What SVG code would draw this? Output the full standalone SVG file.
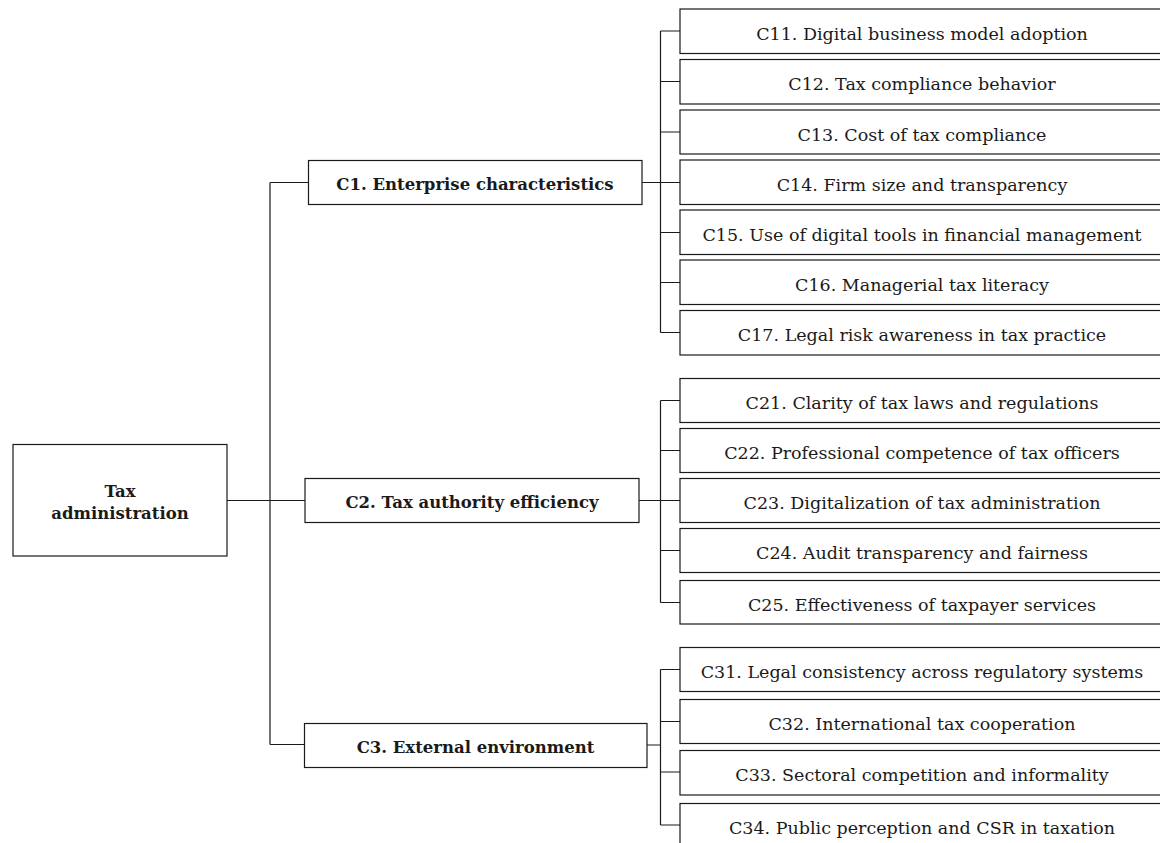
<svg xmlns="http://www.w3.org/2000/svg" width="1160" height="843" viewBox="0 0 1160 843">
<style>
.box{fill:#fff;stroke:#1a1a1a;stroke-width:1.2}
.ln{fill:none;stroke:#1a1a1a;stroke-width:1.2}
.t{font-family:"DejaVu Serif","Liberation Serif",serif;font-size:17.5px;fill:#1a1a1a;text-anchor:middle}
.b{font-weight:bold;font-size:16.5px}
</style>
<rect width="1160" height="843" fill="#fff"/>
<g id="connectors">
<path class="ln" d="M227,500.5 H305 M270,182.5 V744.5 M270,182.5 H308 M270,744.5 H304"/>
<path class="ln" d="M642,182.5 H660.5 M660.5,31 V332.5 M660.5,31 H680 M660.5,81.5 H680 M660.5,132 H680 M660.5,182.5 H680 M660.5,232.5 H680 M660.5,282.5 H680 M660.5,332.5 H680"/>
<path class="ln" d="M639,500.5 H660.5 M660.5,400.5 V602.5 M660.5,400.5 H680 M660.5,450.5 H680 M660.5,500.5 H680 M660.5,550.5 H680 M660.5,602.5 H680"/>
<path class="ln" d="M647,745 H660.5 M660.5,669.5 V825 M660.5,669.5 H680 M660.5,721.5 H680 M660.5,772 H680 M660.5,825 H680"/>
</g>
<g id="root">
<rect class="box" x="13" y="444.5" width="214" height="111.5"/>
<text class="t b" x="120" y="497">Tax</text>
<text class="t b" x="120" y="518.5">administration</text>
</g>
<g id="c1"><rect class="box" x="308.5" y="160.5" width="333.5" height="44"/><text class="t b" x="475" y="190">C1. Enterprise characteristics</text></g>
<g id="c2"><rect class="box" x="305" y="478.5" width="334" height="44"/><text class="t b" x="472" y="508">C2. Tax authority efficiency</text></g>
<g id="c3"><rect class="box" x="304.5" y="723.5" width="342.5" height="44"/><text class="t b" x="475.5" y="753">C3. External environment</text></g>
<g id="c11"><rect class="box" x="680" y="9" width="484" height="44.5"/><text class="t" x="922" y="39.5">C11. Digital business model adoption</text></g>
<g id="c12"><rect class="box" x="680" y="59.5" width="484" height="44.5"/><text class="t" x="922" y="90">C12. Tax compliance behavior</text></g>
<g id="c13"><rect class="box" x="680" y="110" width="484" height="44"/><text class="t" x="922" y="140.5">C13. Cost of tax compliance</text></g>
<g id="c14"><rect class="box" x="680" y="160" width="484" height="44.5"/><text class="t" x="922" y="190.5">C14. Firm size and transparency</text></g>
<g id="c15"><rect class="box" x="680" y="210" width="484" height="44.5"/><text class="t" x="922" y="240.5">C15. Use of digital tools in financial management</text></g>
<g id="c16"><rect class="box" x="680" y="260" width="484" height="44.5"/><text class="t" x="922" y="290.5">C16. Managerial tax literacy</text></g>
<g id="c17"><rect class="box" x="680" y="310.5" width="484" height="44.5"/><text class="t" x="922" y="341">C17. Legal risk awareness in tax practice</text></g>
<g id="c21"><rect class="box" x="680" y="378.5" width="484" height="44"/><text class="t" x="922" y="409">C21. Clarity of tax laws and regulations</text></g>
<g id="c22"><rect class="box" x="680" y="428.5" width="484" height="44"/><text class="t" x="922" y="459">C22. Professional competence of tax officers</text></g>
<g id="c23"><rect class="box" x="680" y="478.5" width="484" height="44"/><text class="t" x="922" y="509">C23. Digitalization of tax administration</text></g>
<g id="c24"><rect class="box" x="680" y="528.5" width="484" height="44"/><text class="t" x="922" y="559">C24. Audit transparency and fairness</text></g>
<g id="c25"><rect class="box" x="680" y="580.5" width="484" height="43.5"/><text class="t" x="922" y="611">C25. Effectiveness of taxpayer services</text></g>
<g id="c31"><rect class="box" x="680" y="647.5" width="484" height="44"/><text class="t" x="922" y="678">C31. Legal consistency across regulatory systems</text></g>
<g id="c32"><rect class="box" x="680" y="699.5" width="484" height="44"/><text class="t" x="922" y="730">C32. International tax cooperation</text></g>
<g id="c33"><rect class="box" x="680" y="750.5" width="484" height="44.5"/><text class="t" x="922" y="781">C33. Sectoral competition and informality</text></g>
<g id="c34"><rect class="box" x="680" y="803.5" width="484" height="44"/><text class="t" x="922" y="834">C34. Public perception and CSR in taxation</text></g>
</svg>
